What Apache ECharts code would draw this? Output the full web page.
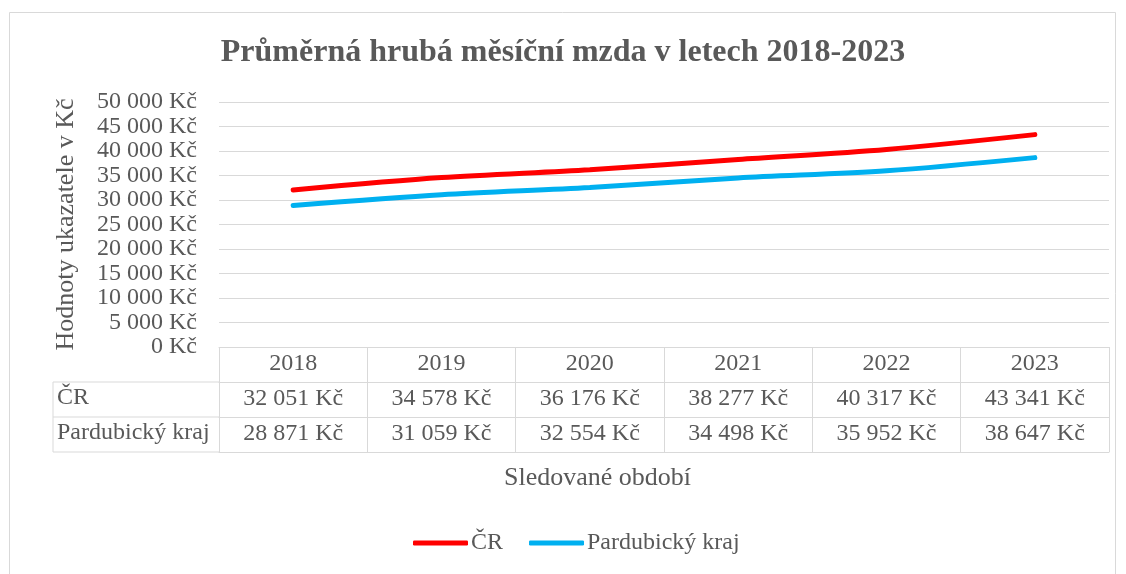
<!DOCTYPE html>
<html>
<head>
<meta charset="utf-8">
<script src="https://cdn.jsdelivr.net/npm/echarts@6/dist/echarts.min.js"></script>
<style>
  html, body { margin: 0; padding: 0; background: #fff; }
  #chart { width: 1126px; height: 574px; }
</style>
</head>
<body>
<div id="chart"></div>
<script>
// data
const years = ['2018', '2019', '2020', '2021', '2022', '2023'];
const seriesNames = ['ČR', 'Pardubický kraj'];
const crValues = [32051, 34578, 36176, 38277, 40317, 43341];
const pardubiceValues = [28871, 31059, 32554, 34498, 35952, 38647];

const font = 'Liberation Serif, Times New Roman, serif';
const textColor = '#595959';
const lineGrey = '#d9d9d9';

// 32051 -> "32 051 Kč"
function kc(v) {
    return String(v).replace(/\B(?=(\d{3})+(?!\d))/g, ' ') + ' Kč';
}

// table rows under the plot are extra category axes
function tableAxis(data, offset, showLabel) {
    return {
        type: 'category',
        position: 'bottom',
        offset: offset,
        boundaryGap: true,
        data: data,
        axisLine: { show: true, lineStyle: { color: lineGrey, width: 1 } },
        axisTick: { show: showLabel, interval: 0, length: 35, lineStyle: { color: lineGrey } },
        axisLabel: {
            show: showLabel, interval: 0, margin: 5,
            color: textColor, fontFamily: font, fontSize: 24
        },
        splitLine: { show: false }
    };
}

const myChart = echarts.init(document.getElementById('chart'));

const option = {
    backgroundColor: '#fff',
    animation: false,
    title: {
        text: 'Průměrná hrubá měsíční mzda v letech 2018-2023',
        left: 'center',
        top: 32,
        textStyle: { fontFamily: font, fontSize: 32, fontWeight: 'bold', color: textColor }
    },
    legend: {
        data: seriesNames,
        left: 413,
        top: 531,
        padding: 0,
        icon: 'roundRect',
        itemWidth: 55,
        itemHeight: 5,
        itemGap: 26,
        textStyle: { fontFamily: font, fontSize: 24, color: textColor, padding: [0, 0, 0, -2] }
    },
    grid: { left: 219, right: 17, top: 102, bottom: 227, containLabel: false },
    xAxis: [
        tableAxis(years, 0, true),
        tableAxis(crValues.map(kc), 35, true),
        tableAxis(pardubiceValues.map(kc), 70, true),
        tableAxis(years.map(() => ''), 105, false)
    ],
    yAxis: {
        type: 'value',
        min: 0,
        max: 50000,
        interval: 5000,
        name: 'Hodnoty ukazatele v Kč',
        nameLocation: 'middle',
        nameGap: 140,
        nameTextStyle: { fontFamily: font, fontSize: 26, color: textColor },
        axisLine: { show: false },
        axisTick: { show: false },
        axisLabel: {
            margin: 22,
            color: textColor, fontFamily: font, fontSize: 24,
            formatter: kc
        },
        splitLine: { lineStyle: { color: lineGrey, width: 1 } }
    },
    series: [
        {
            name: seriesNames[0],
            type: 'line',
            xAxisIndex: 0,
            data: crValues,
            smooth: 0.3,
            showSymbol: false,
            symbol: 'none',
            color: '#ff0000',
            lineStyle: { width: 5, cap: 'round' }
        },
        {
            name: seriesNames[1],
            type: 'line',
            xAxisIndex: 0,
            data: pardubiceValues,
            smooth: 0.3,
            showSymbol: false,
            symbol: 'none',
            color: '#00b0f0',
            lineStyle: { width: 5, cap: 'round' }
        }
    ],
    graphic: [
        // outer frame
        { type: 'rect', shape: { x: 9.5, y: 12.5, width: 1106, height: 600 },
          style: { fill: null, stroke: lineGrey, lineWidth: 1 }, silent: true },
        // left column of the data table
        { type: 'line', shape: { x1: 53, y1: 382, x2: 219, y2: 382 }, style: { stroke: lineGrey } },
        { type: 'line', shape: { x1: 53, y1: 417, x2: 219, y2: 417 }, style: { stroke: lineGrey } },
        { type: 'line', shape: { x1: 53, y1: 452, x2: 219, y2: 452 }, style: { stroke: lineGrey } },
        { type: 'line', shape: { x1: 53, y1: 382, x2: 53, y2: 452 }, style: { stroke: lineGrey } },
        { type: 'text', left: 57, top: 386,
          style: { text: seriesNames[0], fontFamily: font, fontSize: 24, fill: textColor } },
        { type: 'text', left: 57, top: 421,
          style: { text: seriesNames[1], fontFamily: font, fontSize: 24, fill: textColor } },
        // x axis title
        { type: 'text', left: 504, top: 465,
          style: { text: 'Sledované období', fontFamily: font, fontSize: 26, fill: textColor } }
    ]
};

myChart.setOption(option);
</script>
</body>
</html>
